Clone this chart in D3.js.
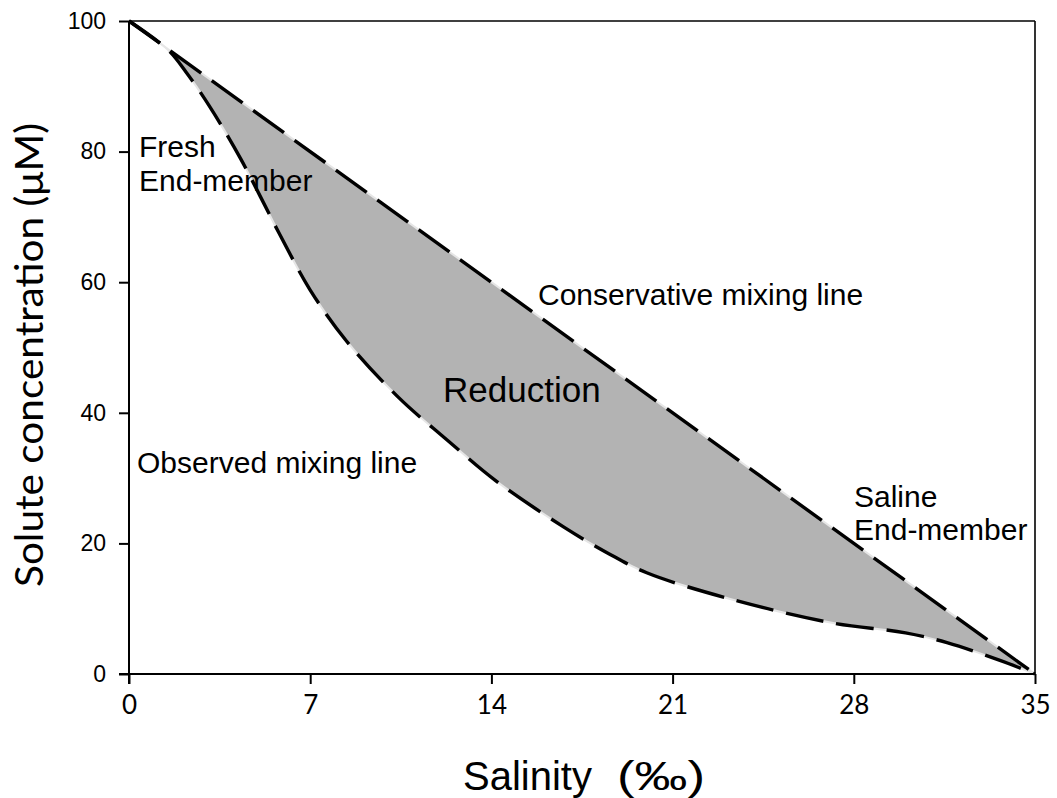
<!DOCTYPE html>
<html>
<head>
<meta charset="utf-8">
<script src="https://cdn.jsdelivr.net/npm/d3@7"></script>
<style>
  html, body { margin: 0; padding: 0; background: #fff; }
  svg { display: block; }
</style>
</head>
<body>
<svg id="chart" width="1057" height="798"></svg>
<script>
// Salinity (‰) and solute concentration (µM) along the two mixing curves
const conservativeSalinity = [0, 35];
const conservativeConc     = [100, 0];

const observedSalinity = [0, 1.5, 2.2, 3.1, 4.3, 5.8, 7, 8.4, 10.4, 12.3, 14.2, 16.8, 18.5, 20, 23.4, 27.2, 30, 31.6, 33.7, 35];
const observedConc     = [100, 95.6, 92.2, 87.0, 79, 67.5, 58.8, 51, 42.4, 35.8, 29.5, 22.5, 18.5, 15.5, 11.3, 7.8, 6.3, 4.8, 2, 0];

const xTicks = [0, 7, 14, 21, 28, 35];
const yTicks = [0, 20, 40, 60, 80, 100];

const conservative = conservativeSalinity.map((s, i) => ({ s, c: conservativeConc[i] }));
const observed = observedSalinity.map((s, i) => ({ s, c: observedConc[i] }));

const svg = d3.select("#chart");
const plotLeft = 129, plotRight = 1035, plotTop = 21, plotBottom = 674;

const x = d3.scaleLinear().domain([0, 35]).range([plotLeft, plotRight]);
const y = d3.scaleLinear().domain([0, 100]).range([plotBottom, plotTop]);

const obsLine = d3.line().x(d => x(d.s)).y(d => y(d.c)).curve(d3.curveCatmullRom.alpha(0.5));
const consLine = d3.line().x(d => x(d.s)).y(d => y(d.c));

// Shaded region between the conservative and observed curves
const regionPath = obsLine(observed) + consLine(conservative.slice().reverse()).replace(/^M/, "L") + "Z";
svg.append("path")
  .attr("d", regionPath)
  .attr("fill", "#b3b3b3")
  .attr("stroke", "none");

// Light under-stroke so the gaps between dashes read as pale
[conservative, observed].forEach((data, i) => {
  svg.append("path")
    .attr("d", i === 0 ? consLine(data) : obsLine(data))
    .attr("fill", "none")
    .attr("stroke", "#e6e6e6")
    .attr("stroke-width", 2);
});

// Dashed mixing curves
svg.append("path")
  .attr("d", consLine(conservative))
  .attr("fill", "none")
  .attr("stroke", "#000")
  .attr("stroke-width", 3.4)
  .attr("stroke-dasharray", "38,13");

svg.append("path")
  .attr("d", obsLine(observed))
  .attr("fill", "none")
  .attr("stroke", "#000")
  .attr("stroke-width", 3.4)
  .attr("stroke-dasharray", "38,13");

// Frame: top and right borders
svg.append("line").attr("x1", plotLeft).attr("x2", plotRight).attr("y1", plotTop).attr("y2", plotTop)
  .attr("stroke", "#000").attr("stroke-width", 1.6);
svg.append("line").attr("x1", plotRight).attr("x2", plotRight).attr("y1", plotTop).attr("y2", plotBottom)
  .attr("stroke", "#000").attr("stroke-width", 1.6);

// Axes
const xAxis = svg.append("g")
  .attr("transform", `translate(0,${plotBottom})`)
  .call(d3.axisBottom(x).tickValues(xTicks).tickSize(10).tickPadding(12).tickSizeOuter(0));
xAxis.select(".domain").attr("stroke", "#000").attr("stroke-width", 2).attr("d", `M${plotLeft - 10},0H${plotRight}`);
xAxis.selectAll(".tick line").attr("stroke", "#000").attr("stroke-width", 2);
xAxis.selectAll(".tick text")
  .attr("font-family", "Lato, 'Open Sans', sans-serif")
  .attr("font-size", 26)
  .attr("fill", "#000");

const yAxis = svg.append("g")
  .attr("transform", `translate(${plotLeft},0)`)
  .call(d3.axisLeft(y).tickValues(yTicks).tickSize(10).tickPadding(13).tickSizeOuter(0));
yAxis.select(".domain").attr("stroke", "#000").attr("stroke-width", 2).attr("d", `M0,${plotTop}V${plotBottom + 10}`);
yAxis.selectAll(".tick line").attr("stroke", "#000").attr("stroke-width", 2);
yAxis.selectAll(".tick text")
  .attr("font-family", "'Liberation Sans', Arial, sans-serif")
  .attr("font-size", 23)
  .attr("fill", "#000");

// Axis titles
svg.append("text")
  .attr("transform", "translate(43,355) rotate(-90)")
  .attr("text-anchor", "middle")
  .attr("font-family", "Lato, 'Open Sans', sans-serif")
  .attr("font-size", 38)
  .attr("textLength", 464)
  .attr("lengthAdjust", "spacingAndGlyphs")
  .attr("fill", "#000")
  .text("Solute concentration (μM)");

const xTitle = svg.append("text")
  .attr("y", 790)
  .attr("font-family", "'Liberation Sans', Arial, sans-serif")
  .attr("font-size", 40)
  .attr("fill", "#000");
xTitle.append("tspan").attr("x", 463).text("Salinity");
xTitle.append("tspan").attr("x", 617).attr("textLength", 88).attr("lengthAdjust", "spacingAndGlyphs").text("(‰)");

// Annotations
const annFont = "'Liberation Sans', Arial, sans-serif";
const notes = [
  { t: "Fresh", x: 139, y: 157, size: 30 },
  { t: "End-member", x: 139, y: 191, size: 30 },
  { t: "Conservative mixing line", x: 538, y: 305, size: 30 },
  { t: "Reduction", x: 443, y: 402, size: 35 },
  { t: "Observed mixing line", x: 137, y: 473, size: 30 },
  { t: "Saline", x: 854, y: 507, size: 30 },
  { t: "End-member", x: 854, y: 540, size: 30 }
];
svg.selectAll("text.note")
  .data(notes)
  .enter().append("text")
  .attr("class", "note")
  .attr("x", d => d.x)
  .attr("y", d => d.y)
  .attr("font-family", annFont)
  .attr("font-size", d => d.size)
  .attr("fill", "#000")
  .text(d => d.t);
</script>
</body>
</html>
